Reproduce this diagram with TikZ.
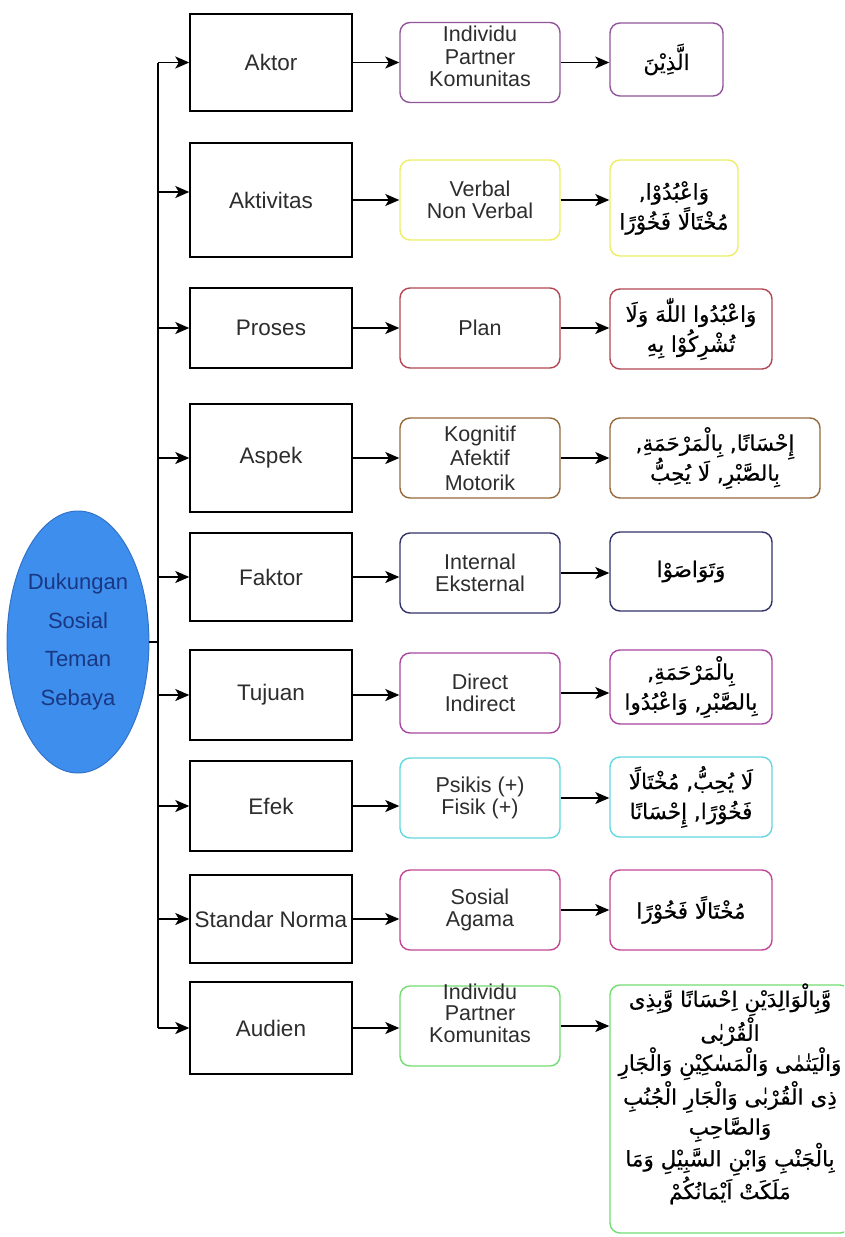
\documentclass[tikz,border=0pt]{standalone}
\usepackage{fontspec}
\setmainfont{Liberation Sans}
\newfontfamily\arabicfont[Script=Arabic,FakeBold=0.6]{DejaVu Sans}
\TeXXeTstate=1
\usetikzlibrary{shapes.geometric,arrows.meta}

\definecolor{cPurple}{RGB}{145,85,155}
\definecolor{cYellow}{RGB}{238,238,100}
\definecolor{cRed}{RGB}{178,70,82}
\definecolor{cBrown}{RGB}{150,105,60}
\definecolor{cNavy}{RGB}{50,50,105}
\definecolor{cMagenta}{RGB}{168,70,160}
\definecolor{cCyan}{RGB}{100,215,225}
\definecolor{cPink}{RGB}{195,70,150}
\definecolor{cGreen}{RGB}{115,220,115}
\definecolor{cBlue}{RGB}{62,142,238}
\definecolor{cBlueEdge}{RGB}{50,115,200}
\definecolor{cBlueText}{RGB}{25,55,130}
\definecolor{cText}{RGB}{45,45,45}

% one right-to-left line of Arabic text
\newcommand{\arline}[1]{{\arabicfont\beginR #1\endR}}
% a centred Arabic line that may stick out on both sides
\newcommand{\wideline}[1]{\makebox[0pt][c]{\arline{#1}}}
% Arabic text size with a fixed line pitch
\newcommand{\versefont}{\arabicfont\fontsize{21.5}{30}\selectfont\lineskiplimit=-60pt\lineskip=0pt}
% text block lifted above the middle of its box
\newcommand{\lifted}[2]{\raisebox{#1}[0pt][0pt]{#2}}

\tikzset{
  every node/.style={text=cText},
  catbox/.style={draw=black, line width=1.4pt, fill=white, minimum width=162pt,
    font=\fontsize{22.5}{24}\selectfont, align=center, inner sep=0pt},
  subbox/.style={draw=#1, line width=1.4pt, fill=white, rounded corners=10pt,
    minimum width=160pt, minimum height=80pt,
    font=\fontsize{21.5}{24.5}\selectfont, align=center, inner sep=0pt},
  verse/.style={draw=#1, line width=1.4pt, fill=white, rounded corners=10pt,
    font=\versefont, align=center, inner sep=0pt, text=black},
  arr/.style={line width=1.5pt, -{Stealth[length=14pt,width=12pt,inset=3.5pt]}},
  link/.style={line width=1.5pt},
}

\begin{document}
\begin{tikzpicture}[x=1pt,y=-1pt]
\useasboundingbox (0,0) rectangle (844,1237);
\clip (0,0) rectangle (844,1237);

% root concept
\node[ellipse, draw=cBlueEdge, fill=cBlue, line width=1pt,
  minimum width=134pt, minimum height=262pt, inner sep=0pt,
  text=cBlueText, align=center, font=\fontsize{22}{38.5}\selectfont]
  (root) at (78,642) {Dukungan\\Sosial\\Teman\\Sebaya};

% first column: aspects
\node[catbox, minimum height=97pt]  (a1) at (271,62.5) {Aktor};
\node[catbox, minimum height=114pt] (a2) at (271,200)  {Aktivitas};
\node[catbox, minimum height=80pt]  (a3) at (271,328)  {Proses};
\node[catbox, minimum height=108pt] (a4) at (271,458)  {Aspek};
\node[catbox, minimum height=88pt]  (a5) at (271,577)  {Faktor};
\node[catbox, minimum height=90pt]  (a6) at (271,695)  {Tujuan};
\node[catbox, minimum height=90pt]  (a7) at (271,806)  {Efek};
\node[catbox, minimum height=88pt]  (a8) at (271,919)  {Standar Norma};
\node[catbox, minimum height=92pt]  (a9) at (271,1028) {Audien};

% second column: categories
\node[subbox=cPurple]  (b1) at (480,62.5) {\lifted{-2pt}{\begin{tabular}{@{}c@{}}Individu\\[-2pt]Partner\\[-2pt]Komunitas\end{tabular}}};
\node[subbox=cYellow]  (b2) at (480,200)  {Verbal\\[-2pt]Non Verbal};
\node[subbox=cRed]     (b3) at (480,328)  {Plan};
\node[subbox=cBrown]   (b4) at (480,458)  {Kognitif\\Afektif\\Motorik};
\node[subbox=cNavy]    (b5) at (480,573)  {Internal\\[-2pt]Eksternal};
\node[subbox=cMagenta] (b6) at (480,693)  {Direct\\[-2pt]Indirect};
\node[subbox=cCyan]    (b7) at (480,798)  {Psikis (+)\\[-2pt]Fisik (+)};
\node[subbox=cPink]    (b8) at (480,910)  {Sosial\\[-2pt]Agama};
\node[subbox=cGreen]   (b9) at (480,1026) {\lifted{5pt}{\begin{tabular}{@{}c@{}}Individu\\[-3pt]Partner\\[-3pt]Komunitas\end{tabular}}};

% third column: Qur'anic references
\node[verse=cPurple, minimum width=113pt, minimum height=73pt] (c1) at (666.5,59.5)
  {\arline{الَّذِيْنَ}};
\node[verse=cYellow, minimum width=128pt, minimum height=96pt] (c2) at (674,208)
  {\arline{وَاعْبُدُوْا,}\\\arline{مُخْتَالًا فَخُوْرًا}};
\node[verse=cRed, minimum width=162pt, minimum height=80pt] (c3) at (691,329)
  {\arline{وَاعْبُدُوا اللّٰهَ وَلَا}\\\arline{تُشْرِكُوْا بِهِ}};
\node[verse=cBrown, minimum width=210pt, minimum height=80pt] (c4) at (715,458)
  {\arline{إِحْسَانًا, بِالْمَرْحَمَةِ,}\\\arline{بِالصَّبْرِ, لَا يُحِبُّ}};
\node[verse=cNavy, minimum width=162pt, minimum height=79pt] (c5) at (691,571.5)
  {\arline{وَتَوَاصَوْا}};
\node[verse=cMagenta, minimum width=162pt, minimum height=74pt] (c6) at (691,687)
  {\arline{بِالْمَرْحَمَةِ,}\\\arline{بِالصَّبْرِ, وَاعْبُدُوا}};
\node[verse=cCyan, minimum width=162pt, minimum height=80pt] (c7) at (691,797)
  {\arline{لَا يُحِبُّ, مُخْتَالًا}\\\arline{فَخُوْرًا, إِحْسَانًا}};
\node[verse=cPink, minimum width=162pt, minimum height=80pt] (c8) at (691,910)
  {\arline{مُخْتَالًا فَخُوْرًا}};
\node[verse=cGreen, minimum width=240pt, minimum height=248pt] (c9) at (730,1109)
  {\lifted{10pt}{\parbox{240pt}{\centering
   \wideline{وَّبِالْوَالِدَيْنِ اِحْسَانًا وَّبِذِى}\\
   \wideline{الْقُرْبٰى}\\
   \wideline{وَالْيَتٰمٰى وَالْمَسٰكِيْنِ وَالْجَارِ}\\
   \wideline{ذِى الْقُرْبٰى وَالْجَارِ الْجُنُبِ}\\
   \wideline{وَالصَّاحِبِ}\\
   \wideline{بِالْجَنْبِ وَابْنِ السَّبِيْلِ وَمَا}\\
   \wideline{مَلَكَتْ اَيْمَانُكُمْ}}}};

% trunk from the root to every aspect
\coordinate (trunk) at (158,0);
\draw[link] (root.east) -- (trunk |- root.east);
\draw[link] (trunk |- a1.west) -- (trunk |- a9.west);
\foreach \n in {a1,a3,a4,a5,a6,a7,a8,a9}
  \draw[arr] (trunk |- \n.west) -- (\n.west);
\draw[arr] ([yshift=8pt]trunk |- a2.west) -- ([yshift=8pt]a2.west);

% aspect -> category -> reference
\foreach \i in {1,...,9} {
  \draw[arr] (a\i.east) -- (a\i.east -| b\i.west);
  \draw[arr] (b\i.east) -- (b\i.east -| c\i.west);
}
\end{tikzpicture}
\end{document}
